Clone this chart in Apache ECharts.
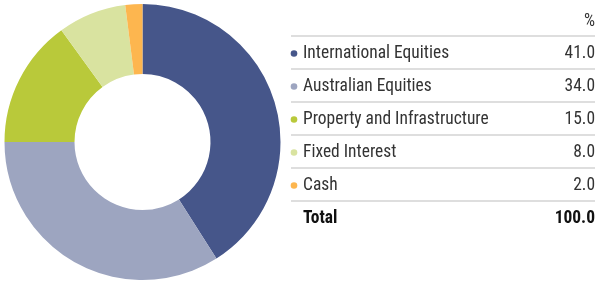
<!DOCTYPE html>
<html><head><meta charset="utf-8">
<script src="https://cdn.jsdelivr.net/npm/echarts@6/dist/echarts.min.js"></script>
<style>html,body{margin:0;padding:0;background:#fff}#c{width:600px;height:281px}</style>
</head><body><div id="c"></div>
<script>
var categories = ['International Equities','Australian Equities','Property and Infrastructure','Fixed Interest','Cash'];
var values = [41.0, 34.0, 15.0, 8.0, 2.0];
var colors = ['#46568A','#9DA5C0','#B9C93A','#D9E3A0','#FDB64F'];
var headerLabel = '%';
var totalLabel = 'Total';
var totalValue = 100.0;

var FONT = '"Liberation Sans Narrow","Roboto Condensed","DejaVu Sans Condensed",sans-serif';
var FS = '18px ';
var SX = 0.97;
var chart = echarts.init(document.getElementById('c'), null, {renderer:'canvas'});
var x0 = 291, x1 = 595, top0 = 36, rowH = 33;
var g = [];
function txt(t, x, y, align, font, fill){
  return {type:'text', x:x, y:y, scaleX:SX, style:{text:t, x:0, y:0, align:align, verticalAlign:'middle', font:font, fill:fill}};
}
g.push(txt(headerLabel, x1, 21, 'right', FS+FONT, '#333'));
for (var i=0;i<=categories.length;i++){
  g.push({type:'rect', shape:{x:x0, y:top0 + i*rowH - 1, width:x1-x0, height:2}, style:{fill:'#DEDEDE'}});
}
categories.forEach(function(c,i){
  var cy = top0 + i*rowH + rowH/2 + 1;
  g.push({type:'circle', shape:{cx:x0+3, cy:cy, r:3.3}, style:{fill:colors[i]}});
  g.push(txt(c, x0+12, cy, 'left', FS+FONT, '#333'));
  g.push(txt(values[i].toFixed(1), x1, cy, 'right', FS+FONT, '#333'));
});
var ty = top0 + categories.length*rowH + rowH/2 + 1;
g.push(txt(totalLabel, x0+12, ty, 'left', 'bold '+FS+FONT, '#111'));
g.push(txt(totalValue.toFixed(1), x1, ty, 'right', 'bold '+FS+FONT, '#111'));

chart.setOption({
  animation:false,
  color: colors,
  series:[{
    type:'pie',
    center:[142.5,142],
    radius:[68,138],
    startAngle:90,
    clockwise:true,
    label:{show:false},
    labelLine:{show:false},
    itemStyle:{borderWidth:0},
    emphasis:{disabled:true},
    data: categories.map(function(c,i){return {name:c, value:values[i]};})
  }],
  graphic: g
});
</script></body></html>
